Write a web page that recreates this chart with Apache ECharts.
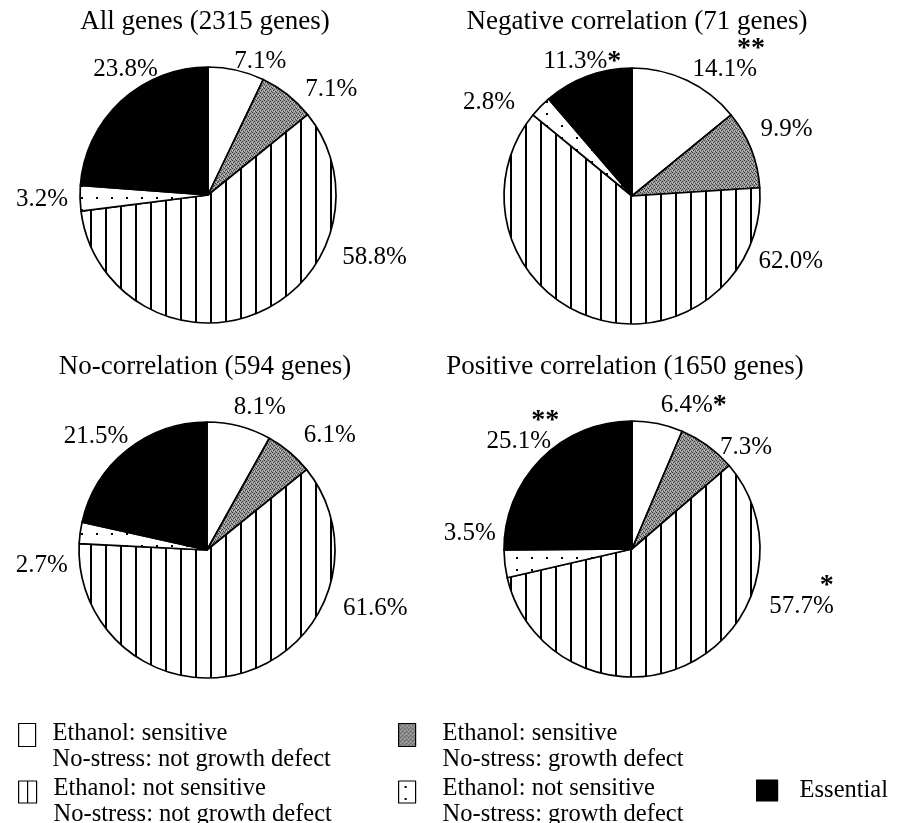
<!DOCTYPE html>
<html>
<head>
<meta charset="utf-8">
<script src="https://cdn.jsdelivr.net/npm/echarts@6/dist/echarts.min.js"></script>
<style>
html, body { margin: 0; padding: 0; background: #fff; }
#main { width: 898px; height: 823px; }
</style>
</head>
<body>
<div id="main"></div>
<script>
// categories (slice order, clockwise from 12 o'clock)
var categories = ['sensNoDefect', 'sensDefect', 'notSensNoDefect', 'notSensDefect', 'essential'];
var legendTexts = [
	'Ethanol: sensitive\nNo-stress: not growth defect',
	'Ethanol: sensitive\nNo-stress: growth defect',
	'Ethanol: not sensitive\nNo-stress: not growth defect',
	'Ethanol: not sensitive\nNo-stress: growth defect',
	'Essential'
];
var pieTitles = ['All genes (2315 genes)', 'Negative correlation (71 genes)', 'No-correlation (594 genes)', 'Positive correlation (1650 genes)'];

// percentages per group
var allGenes = [7.1, 7.1, 58.8, 3.2, 23.8];
var negativeCorr = [14.1, 9.9, 62.0, 2.8, 11.3];
var noCorr = [8.1, 6.1, 61.6, 2.7, 21.5];
var positiveCorr = [6.4, 7.3, 57.7, 3.5, 25.1];

// significance marks
var allMarks = ['', '', '', '', ''];
var negativeMarks = ['**', '', '', '', '*'];
var noMarks = ['', '', '', '', ''];
var positiveMarks = ['*', '', '*', '', '**'];

var groupValues = [allGenes, negativeCorr, noCorr, positiveCorr];
var groupMarks = [allMarks, negativeMarks, noMarks, positiveMarks];

// ---- layout (not data) ----
var FONT = '"Liberation Serif", "Times New Roman", serif';
var pieCenters = [[208, 195], [632, 196], [207, 550], [632, 549]];
var pieRadius = 128;
var titlePos = [[205, 8], [637, 8], [205, 353], [625, 353]];
// mark placement: 'above' = stars over the number, 'sup' = superscript after it
var markStyles = [
	['', '', '', '', ''],
	['above', '', '', '', 'sup'],
	['', '', '', '', ''],
	['sup', '', 'above', '', 'above']
];
// label centre in polar form [angle from 12 o'clock (deg), distance from centre]
var labelPolar = [
	[[21.4, 143], [49.5, 162], [110.7, 178], [268.3, 166], [326.7, 150]],
	[[35.9, 165], [66.8, 168], [112.5, 172], [303.3, 171], [339.7, 143]],
	[[20.3, 152], [46.9, 168], [109, 178], [264.8, 166], [315.8, 159]],
	[[23.3, 156], [48.2, 153], [106.7, 177], [275.6, 163], [316.3, 158]]
];
// legend boxes [left, top, iconW, iconH, gap line above text, textPadLeft]
var legendLayout = [
	[18, 704, 17, 23, 24, 12],
	[398, 704, 17, 23, 24, 22],
	[18, 761, 18, 22, 20, 12],
	[398, 761, 17, 22, 20, 22],
	[756, 778, 21, 21, 0, 17]
];
// legend icons (stripe key is a box split by one line, as in the original)
var legendIcons = ['rect', 'rect', 'path://M0 0H18V22H0ZM9 0V22', 'rect', 'rect'];

// fill patterns
function makeCanvas(w, h, draw) {
	var c = document.createElement('canvas');
	c.width = w;
	c.height = h;
	draw(c.getContext('2d'));
	return c;
}
var stripeFill = { image: makeCanvas(15, 15, function(g) {
	g.fillStyle = '#fff'; g.fillRect(0, 0, 15, 15);
	g.fillStyle = '#000'; g.fillRect(0, 0, 2, 15);
}), repeat: 'repeat' };
var dotFill = { image: makeCanvas(15, 12, function(g) {
	g.fillStyle = '#fff'; g.fillRect(0, 0, 15, 12);
	g.fillStyle = '#000'; g.fillRect(6, 5, 2, 2);
}), repeat: 'repeat' };
var grayFill = { image: makeCanvas(4, 4, function(g) {
	g.fillStyle = '#9a9a9a'; g.fillRect(0, 0, 4, 4);
	g.fillStyle = '#3c3c3c';
	g.fillRect(0, 0, 1, 1); g.fillRect(2, 1, 1, 1); g.fillRect(1, 2, 1, 1); g.fillRect(3, 3, 1, 1);
	g.fillStyle = '#c8c8c8';
	g.fillRect(2, 3, 1, 1); g.fillRect(0, 2, 1, 1);
}), repeat: 'repeat' };
var fills = ['#ffffff', grayFill, stripeFill, dotFill, '#000000'];

var myChart = echarts.init(document.getElementById('main'));

function buildSeries(i) {
	var values = groupValues[i];
	var marks = groupMarks[i];
	var c = pieCenters[i];
	return {
		type: 'pie',
		center: c,
		radius: pieRadius,
		startAngle: 90,
		clockwise: true,
		silent: true,
		avoidLabelOverlap: false,
		itemStyle: { borderColor: '#000', borderWidth: 1.7 },
		label: {
			show: true,
			position: 'outside',
			formatter: function(p) {
				var txt = p.value.toFixed(1) + '%';
				var m = marks[p.dataIndex];
				if (!m) return '{v|' + txt + '}';
				if (markStyles[i][p.dataIndex] == 'above') {
					return '{st|' + m + '}\n{v|' + txt + '}' + (m.length > 1 ? '{sp| }' : '');
				}
				return '{v|' + txt + '}{sup|' + m + '}';
			},
			rich: {
				v: { fontFamily: FONT, fontSize: 25, lineHeight: 28, color: '#000' },
				st: { fontFamily: FONT, fontSize: 28, fontWeight: 'bold', lineHeight: 14, color: '#000', align: 'right' },
				sup: { fontFamily: FONT, fontSize: 28, fontWeight: 'bold', lineHeight: 28, color: '#000', verticalAlign: 'top' },
				sp: { width: 8 }
			}
		},
		labelLine: { show: false },
		labelLayout: function(p) {
			var pol = labelPolar[i][p.dataIndex];
			var a = pol[0] * Math.PI / 180;
			return {
				x: c[0] + pol[1] * Math.sin(a),
				y: c[1] - pol[1] * Math.cos(a),
				align: 'center',
				verticalAlign: 'middle'
			};
		},
		data: values.map(function(v, k) {
			return { name: categories[k], value: v, itemStyle: { color: fills[k] } };
		})
	};
}

var option = {
	animation: false,
	backgroundColor: '#fff',
	title: pieTitles.map(function(t, i) {
		return {
			text: t,
			left: titlePos[i][0],
			top: titlePos[i][1],
			textAlign: 'center',
			padding: 0,
			textStyle: { fontFamily: FONT, fontSize: 27, fontWeight: 'normal', color: '#000' }
		};
	}),
	legend: legendLayout.map(function(l, k) {
		var iconStyle = { borderColor: '#000', borderWidth: 1.2 };
		if (legendIcons[k] != 'rect') iconStyle.color = '#fff';
		return {
			data: [categories[k]],
			left: l[0],
			top: l[1],
			itemWidth: l[2],
			itemHeight: l[3],
			icon: legendIcons[k],
			padding: 0,
			selectedMode: false,
			itemStyle: iconStyle,
			formatter: function() {
				var lines = legendTexts[k].split('\n').map(function(s) { return '{t|' + s + '}'; });
				if (l[4] > 0) lines.unshift('{g| }');
				return lines.join('\n');
			},
			textStyle: {
				fontFamily: FONT, fontSize: 24.5, color: '#000', padding: [0, 0, 0, l[5]],
				rich: {
					t: { fontFamily: FONT, fontSize: 24.5, lineHeight: 26, color: '#000' },
					g: { fontSize: 10, lineHeight: l[4] }
				}
			}
		};
	}),
	series: [0, 1, 2, 3].map(buildSeries)
};
myChart.setOption(option);
window.onresize = myChart.resize;
</script>
</body>
</html>
